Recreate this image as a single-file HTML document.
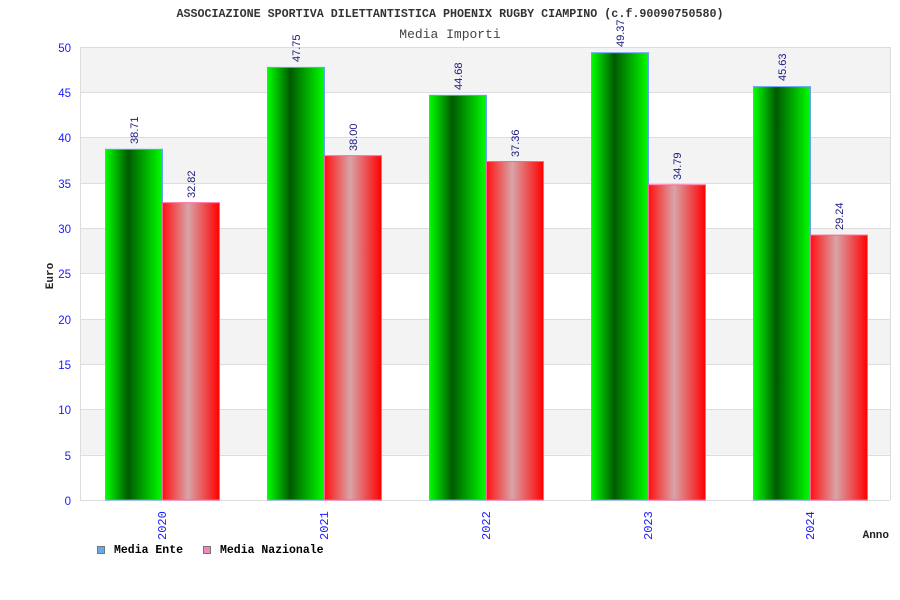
<!DOCTYPE html>
<html><head><style>body{margin:0;background:#fff}svg{display:block}</style></head><body>
<svg width="900" height="600" xmlns="http://www.w3.org/2000/svg" font-family="Liberation Mono, DejaVu Sans Mono, monospace">
<defs>
<linearGradient id="g" x1="0" x2="1" y1="0" y2="0"><stop offset="0" stop-color="#00ff00"/><stop offset="0.4" stop-color="#005a00"/><stop offset="1" stop-color="#00ff00"/></linearGradient>
<linearGradient id="r" x1="0" x2="1" y1="0" y2="0"><stop offset="0" stop-color="#ff1010"/><stop offset="0.45" stop-color="#d8a4a8"/><stop offset="1" stop-color="#ff0000"/></linearGradient>
</defs>
<text x="450" y="17" text-anchor="middle" font-size="11.7" font-weight="bold" fill="#333">ASSOCIAZIONE SPORTIVA DILETTANTISTICA PHOENIX RUGBY CIAMPINO (c.f.90090750580)</text>
<text x="450" y="38" text-anchor="middle" font-size="13" fill="#444">Media Importi</text>
<g>
<rect x="80" y="47" width="810" height="45.3" fill="#f3f3f3"/>
<rect x="80" y="137.6" width="810" height="45.3" fill="#f3f3f3"/>
<rect x="80" y="228.2" width="810" height="45.3" fill="#f3f3f3"/>
<rect x="80" y="318.8" width="810" height="45.3" fill="#f3f3f3"/>
<rect x="80" y="409.4" width="810" height="45.3" fill="#f3f3f3"/>
</g>
<g stroke="#ddd" stroke-width="1">
<line x1="80" x2="890" y1="47.5" y2="47.5"/><line x1="80" x2="890" y1="92.5" y2="92.5"/><line x1="80" x2="890" y1="137.5" y2="137.5"/><line x1="80" x2="890" y1="183.5" y2="183.5"/><line x1="80" x2="890" y1="228.5" y2="228.5"/><line x1="80" x2="890" y1="273.5" y2="273.5"/><line x1="80" x2="890" y1="319.5" y2="319.5"/><line x1="80" x2="890" y1="364.5" y2="364.5"/><line x1="80" x2="890" y1="409.5" y2="409.5"/><line x1="80" x2="890" y1="455.5" y2="455.5"/><line x1="80" x2="890" y1="500.5" y2="500.5"/>
<line x1="80.5" x2="80.5" y1="47" y2="500"/><line x1="890.5" x2="890.5" y1="47" y2="500"/>
</g>
<g font-family="Liberation Sans, sans-serif" font-size="11.5" fill="#1a1aff" text-anchor="end">
<text x="71" y="52">50</text><text x="71" y="97">45</text><text x="71" y="142">40</text><text x="71" y="188">35</text><text x="71" y="233">30</text><text x="71" y="278">25</text><text x="71" y="324">20</text><text x="71" y="369">15</text><text x="71" y="414">10</text><text x="71" y="460">5</text><text x="71" y="505">0</text>
</g>
<text transform="translate(53,276) rotate(-90)" text-anchor="middle" font-size="11" font-weight="bold" fill="#222">Euro</text>
<g stroke-width="1">
<rect x="105.5" y="149.3" width="57" height="350.7" fill="url(#g)" stroke="#6aa0ff"/>
<rect x="162.5" y="202.7" width="57" height="297.3" fill="url(#r)" stroke="#ff60a0"/>
<rect x="267.5" y="67.4" width="57" height="432.6" fill="url(#g)" stroke="#6aa0ff"/>
<rect x="324.5" y="155.7" width="57" height="344.3" fill="url(#r)" stroke="#ff60a0"/>
<rect x="429.5" y="95.3" width="57" height="404.7" fill="url(#g)" stroke="#6aa0ff"/>
<rect x="486.5" y="161.5" width="57" height="338.5" fill="url(#r)" stroke="#ff60a0"/>
<rect x="591.5" y="52.7" width="57" height="447.3" fill="url(#g)" stroke="#6aa0ff"/>
<rect x="648.5" y="184.8" width="57" height="315.2" fill="url(#r)" stroke="#ff60a0"/>
<rect x="753.5" y="86.6" width="57" height="413.4" fill="url(#g)" stroke="#6aa0ff"/>
<rect x="810.5" y="235.1" width="57" height="264.9" fill="url(#r)" stroke="#ff60a0"/>
</g>
<g font-family="Liberation Sans, sans-serif" font-size="11" fill="#1a1a80">
<text transform="translate(138,144) rotate(-90)">38.71</text>
<text transform="translate(195,198) rotate(-90)">32.82</text>
<text transform="translate(300,62) rotate(-90)">47.75</text>
<text transform="translate(357,151) rotate(-90)">38.00</text>
<text transform="translate(462,90) rotate(-90)">44.68</text>
<text transform="translate(519,157) rotate(-90)">37.36</text>
<text transform="translate(624,47) rotate(-90)">49.37</text>
<text transform="translate(681,180) rotate(-90)">34.79</text>
<text transform="translate(786,81) rotate(-90)">45.63</text>
<text transform="translate(843,230) rotate(-90)">29.24</text>
</g>
<g font-size="12" fill="#1a1aff">
<text transform="translate(166,540) rotate(-90)">2020</text>
<text transform="translate(328,540) rotate(-90)">2021</text>
<text transform="translate(490,540) rotate(-90)">2022</text>
<text transform="translate(652,540) rotate(-90)">2023</text>
<text transform="translate(814,540) rotate(-90)">2024</text>
</g>
<text x="889" y="538" text-anchor="end" font-size="11" font-weight="bold" fill="#222">Anno</text>
<rect x="97.5" y="546.5" width="7" height="7" fill="#66aaee" stroke="#777"/>
<text x="114" y="553" font-size="11.5" font-weight="bold" fill="#000">Media Ente</text>
<rect x="203.5" y="546.5" width="7" height="7" fill="#ee88bb" stroke="#777"/>
<text x="220" y="553" font-size="11.5" font-weight="bold" fill="#000">Media Nazionale</text>
</svg>
</body></html>
